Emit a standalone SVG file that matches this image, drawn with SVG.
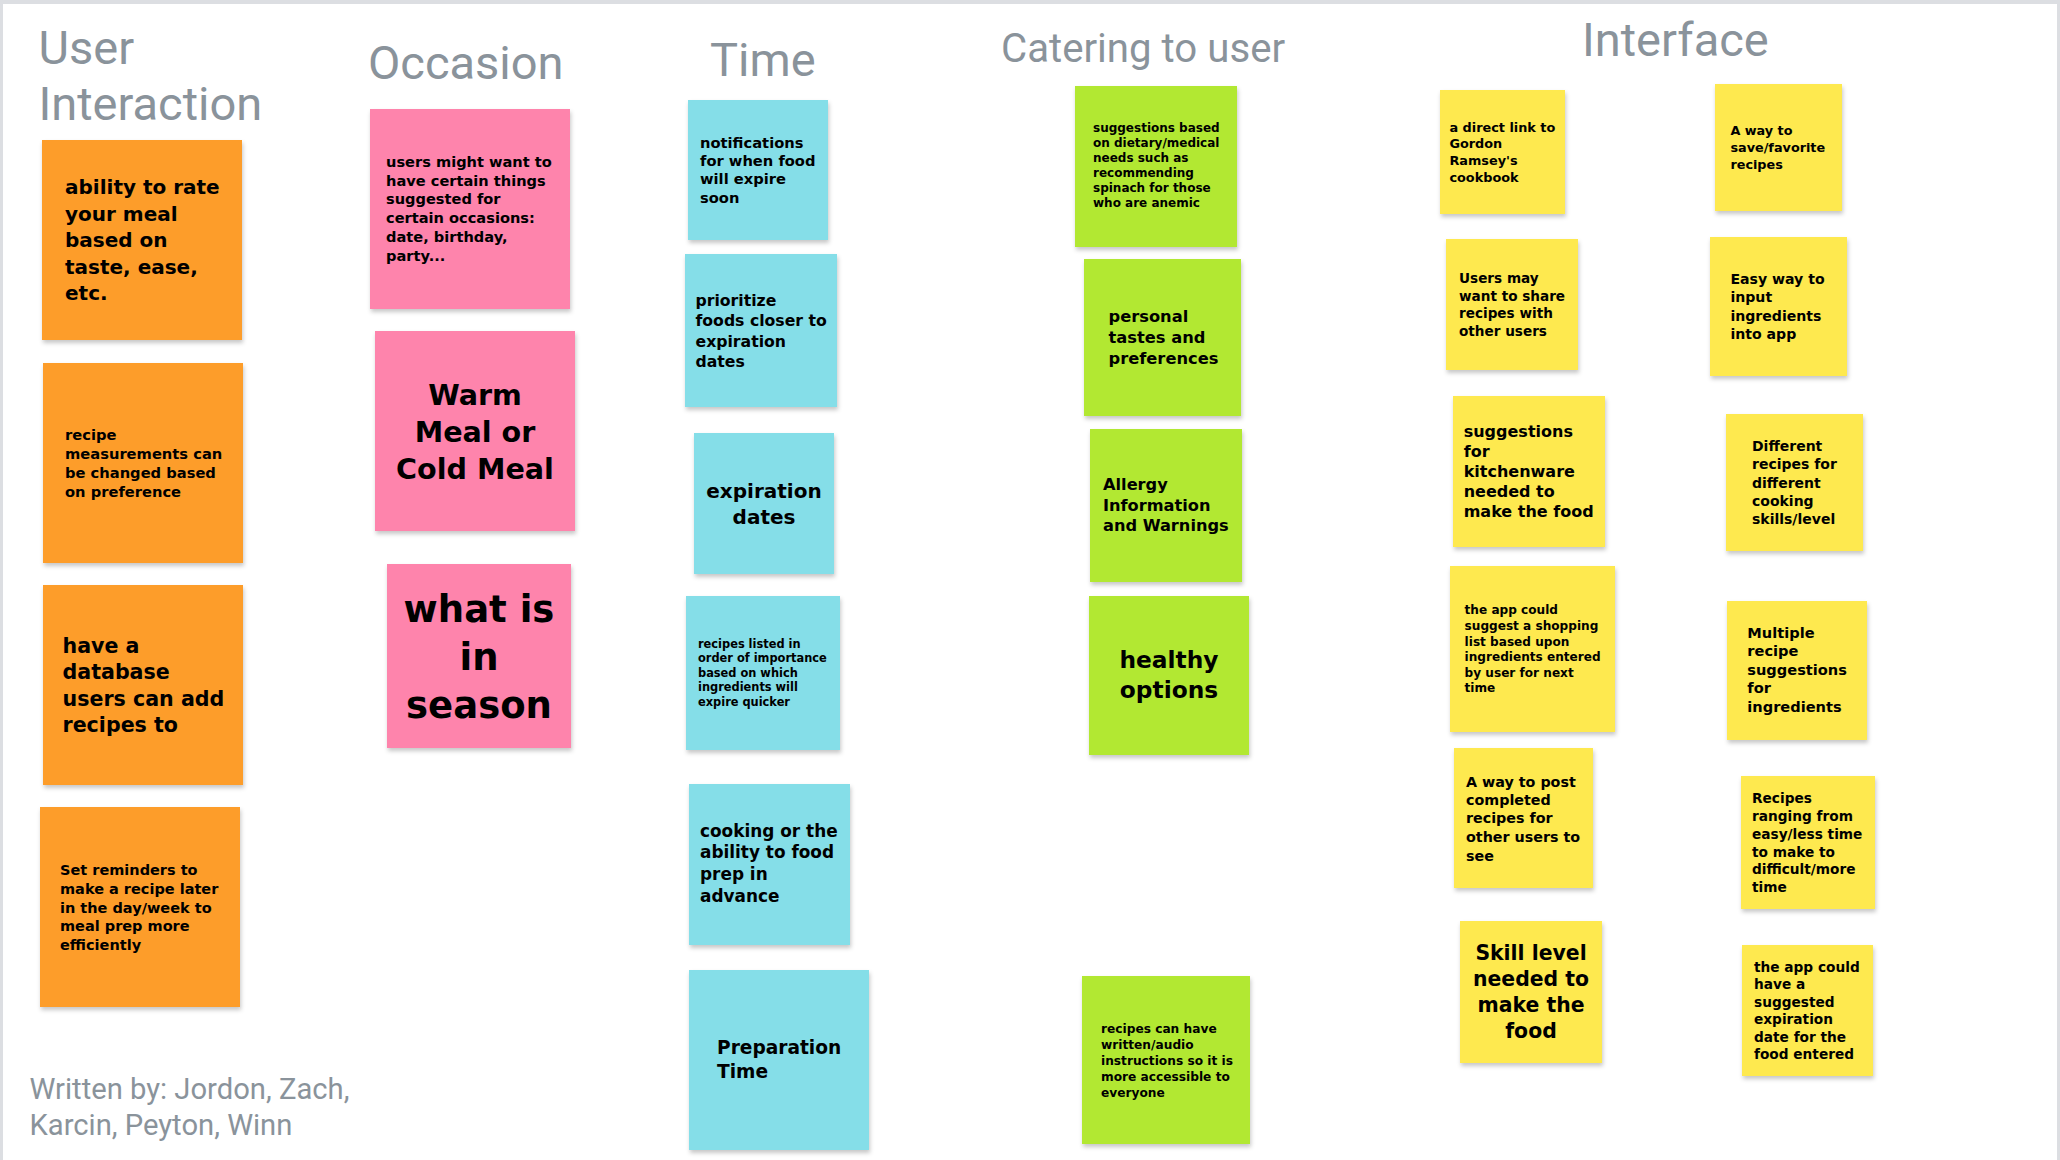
<svg xmlns="http://www.w3.org/2000/svg" width="2060" height="1160" viewBox="0 0 2060 1160">
<defs>
<filter id="sh" x="-10%" y="-10%" width="125%" height="125%">
<feDropShadow dx="1" dy="3" stdDeviation="2" flood-color="#000" flood-opacity="0.22"/>
</filter>
<style>
.n{filter:url(#sh)}
.o{fill:#FD9D2A}.p{fill:#FE84AC}.c{fill:#85DEE8}.g{fill:#B2E831}.y{fill:#FEE94F}
.t{font-family:"DejaVu Sans","Liberation Sans",sans-serif;font-weight:700;fill:#000}
.m{text-anchor:middle}
.h{font-family:Roboto,"Liberation Sans",sans-serif;font-weight:400;fill:#8a939b}
</style>
</defs>
<rect x="0" y="0" width="2060" height="1160" fill="#dcdee2"/>
<rect x="3" y="4" width="2054" height="1156" fill="#ffffff"/>

<g id="titles">
<text class="h" font-size="47"><tspan x="38.5" y="64">User</tspan><tspan x="38.5" y="120">Interaction</tspan></text>
<text class="h" font-size="47" x="368" y="79">Occasion</text>
<text class="h" font-size="47" x="710" y="76">Time</text>
<text class="h" font-size="40.2" x="1001" y="62">Catering to user</text>
<text class="h" font-size="47" x="1582" y="56">Interface</text>
<text class="h" font-size="29.2"><tspan x="29.5" y="1099">Written by: Jordon, Zach,</tspan><tspan x="29.5" y="1135">Karcin, Peyton, Winn</tspan></text>
</g>

<g id="ui-rate">
<rect class="n o" x="42" y="140" width="200" height="200"/>
<text class="t" font-size="20"><tspan x="65" y="194.3">ability to rate</tspan><tspan x="65" y="221">your meal</tspan><tspan x="65" y="247.3">based on</tspan><tspan x="65" y="274">taste, ease,</tspan><tspan x="65" y="300">etc.</tspan></text>
</g>
<g id="ui-measure">
<rect class="n o" x="43" y="363" width="200" height="200"/>
<text class="t" font-size="14.7"><tspan x="65" y="440">recipe</tspan><tspan x="65" y="459">measurements can</tspan><tspan x="65" y="477.7">be changed based</tspan><tspan x="65" y="496.7">on preference</tspan></text>
</g>
<g id="ui-database">
<rect class="n o" x="43" y="585" width="200" height="200"/>
<text class="t" font-size="20.6"><tspan x="62.5" y="652.7">have a</tspan><tspan x="62.5" y="679.3">database</tspan><tspan x="62.5" y="706">users can add</tspan><tspan x="62.5" y="732">recipes to</tspan></text>
</g>
<g id="ui-reminders">
<rect class="n o" x="40" y="807" width="200" height="200"/>
<text class="t" font-size="14.5"><tspan x="60" y="875">Set reminders to</tspan><tspan x="60" y="894">make a recipe later</tspan><tspan x="60" y="912.7">in the day/week to</tspan><tspan x="60" y="931">meal prep more</tspan><tspan x="60" y="950">efficiently</tspan></text>
</g>

<g id="oc-certain">
<rect class="n p" x="370" y="109" width="200" height="200"/>
<text class="t" font-size="14.6"><tspan x="386" y="167.3">users might want to</tspan><tspan x="386" y="186">have certain things</tspan><tspan x="386" y="204.3">suggested for</tspan><tspan x="386" y="222.7">certain occasions:</tspan><tspan x="386" y="242">date, birthday,</tspan><tspan x="386" y="261">party...</tspan></text>
</g>
<g id="oc-warm">
<rect class="n p" x="375" y="331" width="200" height="200"/>
<text class="t m" font-size="28.6"><tspan x="475" y="405">Warm</tspan><tspan x="475" y="442">Meal or</tspan><tspan x="475" y="479">Cold Meal</tspan></text>
</g>
<g id="oc-season">
<rect class="n p" x="387" y="564" width="184" height="184"/>
<text class="t m" font-size="37"><tspan x="479" y="621.7">what is</tspan><tspan x="479" y="670">in</tspan><tspan x="479" y="717.7">season</tspan></text>
</g>

<g id="tm-notify">
<rect class="n c" x="688" y="100" width="140" height="140"/>
<text class="t" font-size="14.7"><tspan x="700" y="147.7">notifications</tspan><tspan x="700" y="166">for when food</tspan><tspan x="700" y="184.3">will expire</tspan><tspan x="700" y="203.3">soon</tspan></text>
</g>
<g id="tm-prioritize">
<rect class="n c" x="685" y="254" width="152" height="153"/>
<text class="t" font-size="15.7"><tspan x="695.5" y="306">prioritize</tspan><tspan x="695.5" y="326">foods closer to</tspan><tspan x="695.5" y="346.7">expiration</tspan><tspan x="695.5" y="366.7">dates</tspan></text>
</g>
<g id="tm-expiration">
<rect class="n c" x="694" y="433" width="140" height="141"/>
<text class="t m" font-size="20"><tspan x="764" y="498.3">expiration</tspan><tspan x="764" y="524">dates</tspan></text>
</g>
<g id="tm-order">
<rect class="n c" x="686" y="596" width="154" height="154"/>
<text class="t" font-size="11.4"><tspan x="698" y="647.7">recipes listed in</tspan><tspan x="698" y="662.3">order of importance</tspan><tspan x="698" y="676.7">based on which</tspan><tspan x="698" y="691">ingredients will</tspan><tspan x="698" y="705.7">expire quicker</tspan></text>
</g>
<g id="tm-prep">
<rect class="n c" x="689" y="784" width="161" height="161"/>
<text class="t" font-size="16.9"><tspan x="700" y="837.3">cooking or the</tspan><tspan x="700" y="858.3">ability to food</tspan><tspan x="700" y="880">prep in</tspan><tspan x="700" y="901.7">advance</tspan></text>
</g>
<g id="tm-preptime">
<rect class="n c" x="689" y="970" width="180" height="180"/>
<text class="t" font-size="18.6"><tspan x="717" y="1054">Preparation</tspan><tspan x="717" y="1077.7">Time</tspan></text>
</g>

<g id="ca-dietary">
<rect class="n g" x="1075" y="86" width="162" height="161"/>
<text class="t" font-size="12"><tspan x="1093" y="131.7">suggestions based</tspan><tspan x="1093" y="146.7">on dietary/medical</tspan><tspan x="1093" y="161.7">needs such as</tspan><tspan x="1093" y="177">recommending</tspan><tspan x="1093" y="192.3">spinach for those</tspan><tspan x="1093" y="207.3">who are anemic</tspan></text>
</g>
<g id="ca-tastes">
<rect class="n g" x="1084" y="259" width="157" height="157"/>
<text class="t" font-size="16.3"><tspan x="1108.5" y="321.7">personal</tspan><tspan x="1108.5" y="342.7">tastes and</tspan><tspan x="1108.5" y="364">preferences</tspan></text>
</g>
<g id="ca-allergy">
<rect class="n g" x="1090" y="429" width="152" height="153"/>
<text class="t" font-size="16.2"><tspan x="1103" y="490">Allergy</tspan><tspan x="1103" y="511">Information</tspan><tspan x="1103" y="531">and Warnings</tspan></text>
</g>
<g id="ca-healthy">
<rect class="n g" x="1089" y="596" width="160" height="159"/>
<text class="t m" font-size="23.3"><tspan x="1169" y="668.3">healthy</tspan><tspan x="1169" y="697.7">options</tspan></text>
</g>
<g id="ca-audio">
<rect class="n g" x="1082" y="976" width="168" height="168"/>
<text class="t" font-size="12.2"><tspan x="1101" y="1033.3">recipes can have</tspan><tspan x="1101" y="1049.3">written/audio</tspan><tspan x="1101" y="1065">instructions so it is</tspan><tspan x="1101" y="1081">more accessible to</tspan><tspan x="1101" y="1096.7">everyone</tspan></text>
</g>

<g id="if-gordon">
<rect class="n y" x="1440" y="90" width="125" height="124"/>
<text class="t" font-size="12.85"><tspan x="1449.4" y="131.7">a direct link to</tspan><tspan x="1449.4" y="148.3">Gordon</tspan><tspan x="1449.4" y="165">Ramsey's</tspan><tspan x="1449.4" y="181.7">cookbook</tspan></text>
</g>
<g id="if-favorite">
<rect class="n y" x="1715" y="84" width="127" height="127"/>
<text class="t" font-size="12.8"><tspan x="1730.4" y="135">A way to</tspan><tspan x="1730.4" y="152.3">save/favorite</tspan><tspan x="1730.4" y="169.3">recipes</tspan></text>
</g>
<g id="if-share">
<rect class="n y" x="1446" y="239" width="132" height="131"/>
<text class="t" font-size="13.6"><tspan x="1459" y="283.3">Users may</tspan><tspan x="1459" y="300.7">want to share</tspan><tspan x="1459" y="318.3">recipes with</tspan><tspan x="1459" y="335.7">other users</tspan></text>
</g>
<g id="if-input">
<rect class="n y" x="1710" y="237" width="137" height="139"/>
<text class="t" font-size="14.1"><tspan x="1730.4" y="284">Easy way to</tspan><tspan x="1730.4" y="302.3">input</tspan><tspan x="1730.4" y="320.7">ingredients</tspan><tspan x="1730.4" y="339">into app</tspan></text>
</g>
<g id="if-kitchenware">
<rect class="n y" x="1453" y="396" width="152" height="151"/>
<text class="t" font-size="16"><tspan x="1463.7" y="436.7">suggestions</tspan><tspan x="1463.7" y="456.7">for</tspan><tspan x="1463.7" y="476.7">kitchenware</tspan><tspan x="1463.7" y="497.3">needed to</tspan><tspan x="1463.7" y="517.3">make the food</tspan></text>
</g>
<g id="if-skills">
<rect class="n y" x="1726" y="414" width="137" height="137"/>
<text class="t" font-size="14"><tspan x="1752" y="451">Different</tspan><tspan x="1752" y="469.3">recipes for</tspan><tspan x="1752" y="487.7">different</tspan><tspan x="1752" y="506">cooking</tspan><tspan x="1752" y="524.3">skills/level</tspan></text>
</g>
<g id="if-shopping">
<rect class="n y" x="1450" y="566" width="165" height="166"/>
<text class="t" font-size="12.1"><tspan x="1464.6" y="614.3">the app could</tspan><tspan x="1464.6" y="630">suggest a shopping</tspan><tspan x="1464.6" y="645.7">list based upon</tspan><tspan x="1464.6" y="661">ingredients entered</tspan><tspan x="1464.6" y="676.7">by user for next</tspan><tspan x="1464.6" y="692.3">time</tspan></text>
</g>
<g id="if-multiple">
<rect class="n y" x="1727" y="601" width="140" height="139"/>
<text class="t" font-size="14.6"><tspan x="1747.3" y="637.7">Multiple</tspan><tspan x="1747.3" y="656">recipe</tspan><tspan x="1747.3" y="675">suggestions</tspan><tspan x="1747.3" y="693.3">for</tspan><tspan x="1747.3" y="711.7">ingredients</tspan></text>
</g>
<g id="if-post">
<rect class="n y" x="1454" y="748" width="139" height="140"/>
<text class="t" font-size="14.3"><tspan x="1466" y="786.7">A way to post</tspan><tspan x="1466" y="805">completed</tspan><tspan x="1466" y="823.3">recipes for</tspan><tspan x="1466" y="842.3">other users to</tspan><tspan x="1466" y="861">see</tspan></text>
</g>
<g id="if-ranging">
<rect class="n y" x="1741" y="776" width="134" height="133"/>
<text class="t" font-size="13.7"><tspan x="1752" y="803.3">Recipes</tspan><tspan x="1752" y="821">ranging from</tspan><tspan x="1752" y="839">easy/less time</tspan><tspan x="1752" y="856.7">to make to</tspan><tspan x="1752" y="874.3">difficult/more</tspan><tspan x="1752" y="892.3">time</tspan></text>
</g>
<g id="if-skill">
<rect class="n y" x="1460" y="921" width="142" height="142"/>
<text class="t m" font-size="20.4"><tspan x="1531" y="960">Skill level</tspan><tspan x="1531" y="985.7">needed to</tspan><tspan x="1531" y="1012.3">make the</tspan><tspan x="1531" y="1038.3">food</tspan></text>
</g>
<g id="if-expdate">
<rect class="n y" x="1742" y="945" width="131" height="131"/>
<text class="t" font-size="13.7"><tspan x="1754" y="971.7">the app could</tspan><tspan x="1754" y="989">have a</tspan><tspan x="1754" y="1006.7">suggested</tspan><tspan x="1754" y="1024">expiration</tspan><tspan x="1754" y="1041.7">date for the</tspan><tspan x="1754" y="1059">food entered</tspan></text>
</g>
</svg>
